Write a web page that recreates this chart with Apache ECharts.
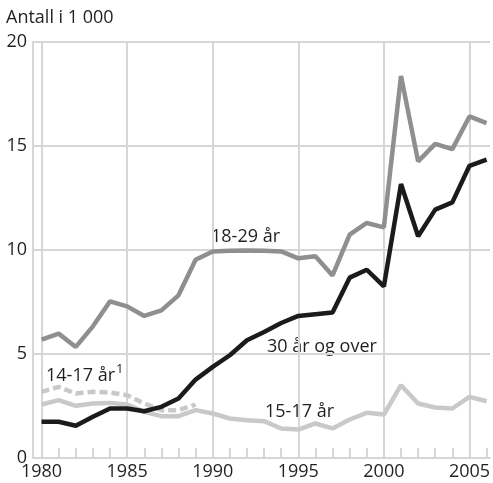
<!DOCTYPE html>
<html>
<head>
<meta charset="utf-8">
<script src="https://cdn.jsdelivr.net/npm/echarts@6/dist/echarts.min.js"></script>
<style>
html,body{margin:0;padding:0;background:#fff;}
#chart{width:493px;height:483px;}
</style>
</head>
<body>
<div id="chart"></div>
<script>
const years = [1980,1981,1982,1983,1984,1985,1986,1987,1988,1989,1990,1991,1992,1993,1994,1995,1996,1997,1998,1999,2000,2001,2002,2003,2004,2005,2006];
const age1829 = [5.69,5.98,5.34,6.33,7.53,7.29,6.83,7.10,7.82,9.53,9.93,9.96,9.97,9.96,9.93,9.60,9.70,8.78,10.74,11.30,11.09,18.37,14.26,15.10,14.85,16.42,16.10];
const age30plus = [1.74,1.74,1.55,1.98,2.38,2.38,2.25,2.46,2.86,3.77,4.38,4.94,5.66,6.06,6.49,6.83,6.91,6.99,8.67,9.05,8.25,13.17,10.66,11.94,12.29,14.05,14.34];
const age1517 = [2.57,2.78,2.51,2.62,2.65,2.57,2.22,2.01,2.01,2.30,2.14,1.90,1.82,1.77,1.42,1.37,1.66,1.42,1.85,2.17,2.09,3.50,2.62,2.43,2.38,2.94,2.73];
const age1417 = [3.18,3.42,3.10,3.18,3.15,3.02,2.62,2.30,2.30,2.57];
const majorYears = [1980,1985,1990,1995,2000,2005];
const yTicks = [0,5,10,15,20];

const pair = (vals) => vals.map((v,i) => [years[i], v]);
const FONT = '"Open Sans", "Noto Sans", sans-serif';
const GRID = '#d6d6d6';
const TXT = '#231f20';
const FS = 18;

const chart = echarts.init(document.getElementById('chart'), null, {renderer:'canvas'});
chart.setOption({
  animation:false,
  backgroundColor:'#fff',
  grid:{left:33,right:3,top:42,bottom:25,containLabel:false,outerBoundsMode:'none'},
  xAxis:[{
    type:'value', min:1979.5, max:2006.2,
    axisLine:{show:true,lineStyle:{color:GRID,width:2}},
    axisTick:{show:false,customValues:majorYears},
    splitLine:{show:true,lineStyle:{color:GRID,width:2}},
    axisLabel:{customValues:majorYears,color:TXT,fontSize:FS,fontFamily:FONT,margin:5,formatter:v=>String(v)}
  },{
    type:'value', min:1979.5, max:2006.2, position:'bottom',
    axisLine:{show:false},
    axisTick:{show:true,inside:true,length:10,customValues:years,lineStyle:{color:GRID,width:2}},
    splitLine:{show:false},
    axisLabel:{show:false}
  }],
  yAxis:{
    type:'value', min:0, max:20, interval:5,
    axisLine:{show:true,lineStyle:{color:GRID,width:2}},
    axisTick:{show:false},
    splitLine:{show:true,lineStyle:{color:GRID,width:2}},
    axisLabel:{color:TXT,fontSize:FS,fontFamily:FONT,margin:6,customValues:yTicks}
  },
  series:[
    {type:'line',name:'15-17 år',data:pair(age1517),symbol:'none',lineStyle:{color:'#c9c9c9',width:4.5},z:2},
    {type:'line',name:'14-17 år',data:pair(age1417),symbol:'none',lineStyle:{color:'#c9c9c9',width:4.5,type:[8,4]},z:3},
    {type:'line',name:'18-29 år',data:pair(age1829),symbol:'none',lineStyle:{color:'#8f8f8f',width:4.5},z:4},
    {type:'line',name:'30 år og over',data:pair(age30plus),symbol:'none',lineStyle:{color:'#1c1a1a',width:4.5},z:5}
  ],
  graphic:[
    {type:'text',x:6,y:17.5,style:{text:'Antall i 1 000',fontSize:FS,fontFamily:FONT,fill:TXT,verticalAlign:'middle'}},
    {type:'text',x:211,y:236.5,style:{text:'18-29 år',fontSize:FS,fontFamily:FONT,fill:TXT,verticalAlign:'middle'}},
    {type:'text',x:267,y:347,style:{text:'30 år og over',fontSize:FS,fontFamily:FONT,fill:TXT,verticalAlign:'middle'}},
    {type:'text',x:265,y:412,style:{text:'15-17 år',fontSize:FS,fontFamily:FONT,fill:TXT,verticalAlign:'middle'}},
    {type:'text',x:46,y:375.5,style:{text:'14-17 år',fontSize:FS,fontFamily:FONT,fill:TXT,verticalAlign:'middle'}},
    {type:'text',x:116,y:369,style:{text:'1',fontSize:13,fontFamily:FONT,fill:TXT,verticalAlign:'middle'}}
  ]
});
</script>
</body>
</html>
